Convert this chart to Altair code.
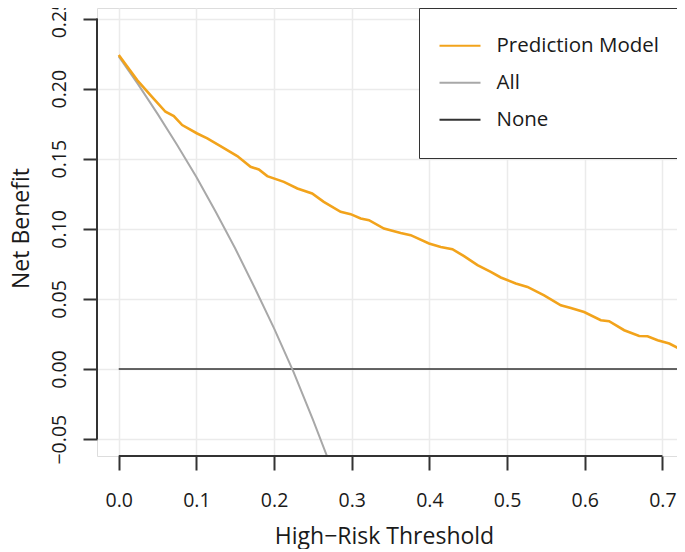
import altair as alt
import pandas as pd

# ---- data ----
series_names = ["Prediction Model", "All", "None"]
series_colors = ["#F2A31B", "#A8A8A8", "#333333"]
series_widths = [2.6, 2.0, 1.6]

model_thr = [0.0, 0.0237, 0.0408, 0.0602, 0.0709, 0.0817, 0.101, 0.114, 0.131, 0.1526,
             0.1697, 0.1804, 0.1912, 0.2126, 0.23, 0.249, 0.264, 0.2857, 0.2986, 0.3115,
             0.3222, 0.3415, 0.363, 0.3759, 0.3995, 0.4146, 0.4296, 0.4446, 0.4619, 0.479,
             0.4919, 0.5112, 0.5263, 0.5477, 0.5692, 0.5821, 0.5992, 0.6207, 0.6314, 0.6508,
             0.6701, 0.6809, 0.6938, 0.7088, 0.7216, 0.735]
model_nb = [0.224, 0.2061, 0.1954, 0.1835, 0.1804, 0.174, 0.168, 0.1645, 0.159, 0.1519,
            0.1442, 0.1424, 0.1376, 0.1335, 0.1288, 0.1252, 0.1192, 0.1121, 0.1105, 0.1074,
            0.1062, 0.1002, 0.0971, 0.0955, 0.0896, 0.0871, 0.0855, 0.0805, 0.0741, 0.0693,
            0.0653, 0.061, 0.0586, 0.0526, 0.0455, 0.0436, 0.0407, 0.0348, 0.0341, 0.0277,
            0.0236, 0.0234, 0.0206, 0.0182, 0.0146, 0.0140]

all_thr = [0.0, 0.025, 0.05, 0.075, 0.1, 0.125, 0.15, 0.175, 0.2, 0.225, 0.25, 0.275]
all_nb = [0.223, 0.203, 0.182, 0.160, 0.137, 0.112, 0.086, 0.058, 0.029, -0.002, -0.036, -0.072]

none_thr = [0.0, 0.75]
none_nb = [0.0, 0.0]

x_ticks = [0.0, 0.1, 0.2, 0.3, 0.4, 0.5, 0.6, 0.7]
y_ticks = [-0.05, 0.0, 0.05, 0.10, 0.15, 0.20, 0.25]
x_domain = [-0.028, 0.7188]
y_domain = [-0.062, 0.2575]

rows = []
for name, xs, ys in [("Prediction Model", model_thr, model_nb),
                     ("All", all_thr, all_nb),
                     ("None", none_thr, none_nb)]:
    for i, (a, b) in enumerate(zip(xs, ys)):
        rows.append({"series": name, "threshold": a, "net_benefit": b, "order": i})
df = pd.DataFrame(rows)

axis_df_x = pd.DataFrame({"x": [x_ticks[0]], "x2": [x_ticks[-1]]})
axis_df_y = pd.DataFrame({"y": [y_ticks[0]], "y2": [y_ticks[-1]]})

W, H = 580, 448
FONT = "Open Sans"
TXT = "#1a1a1a"

xscale = alt.Scale(domain=x_domain, nice=False, zero=False)
yscale = alt.Scale(domain=y_domain, nice=False, zero=False)

x_axis = alt.Axis(values=x_ticks, format=".1f", domain=False, tickSize=14, tickWidth=2,
                  tickColor="#333333", grid=True, gridColor="#EBEBEB", gridWidth=1.5,
                  labelFontSize=19.5, labelFont=FONT, labelColor=TXT, labelBaseline="alphabetic",
                  labelPadding=36, labelFlush=False, labelOverlap=False,
                  title="High\u2212Risk Threshold", titleFont=FONT, titleFontSize=23,
                  titleFontWeight="normal", titleColor=TXT, titleBaseline="alphabetic",
                  titleAlign="center", titleX=287, titleY=87)
y_axis = alt.Axis(values=y_ticks, format=".2f", domain=False, tickSize=14, tickWidth=2,
                  tickColor="#333333", grid=True, gridColor="#EBEBEB", gridWidth=1.5,
                  labelFontSize=19.5, labelFont=FONT, labelColor=TXT, labelAngle=270,
                  labelAlign="center", labelBaseline="alphabetic", labelPadding=18,
                  labelFlush=False, labelOverlap=False,
                  title="Net Benefit", titleFont=FONT, titleFontSize=23,
                  titleFontWeight="normal", titleColor=TXT, titleAngle=270,
                  titleBaseline="alphabetic", titleAlign="center", titleX=-69, titleY=220)

color = alt.Color("series:N",
                  scale=alt.Scale(domain=series_names, range=series_colors),
                  legend=alt.Legend(title=None, orient="none", legendX=322, legendY=0,
                                    symbolType="stroke", symbolSize=1681, symbolStrokeWidth=2,
                                    labelFontSize=20.5, labelFont=FONT, labelColor=TXT,
                                    labelOffset=15, labelLimit=400, rowPadding=0,
                                    clipHeight=36.7, padding=19.5,
                                    strokeColor="#333333", fillColor="white"))


def line_layer(name, width):
    return alt.Chart(df).transform_filter(alt.datum.series == name).mark_line(
        clip=True, strokeWidth=width
    ).encode(
        x=alt.X("threshold:Q", scale=xscale, axis=x_axis),
        y=alt.Y("net_benefit:Q", scale=yscale, axis=y_axis),
        color=color,
        order="order:Q",
    )

none_l = line_layer("None", series_widths[2])
all_l = line_layer("All", series_widths[1])
model_l = line_layer("Prediction Model", series_widths[0])

x_line = alt.Chart(axis_df_x).mark_rule(color="#333333", strokeWidth=2).encode(
    x=alt.X("x:Q", scale=xscale), x2="x2:Q", y=alt.value(H))
y_line = alt.Chart(axis_df_y).mark_rule(color="#333333", strokeWidth=2).encode(
    y=alt.Y("y:Q", scale=yscale), y2="y2:Q", x=alt.value(0))

chart = alt.layer(none_l, all_l, model_l, x_line, y_line).properties(
    width=W, height=H,
    autosize=alt.AutoSizeParams(type="none"),
    padding={"left": 89, "top": 0, "right": 0, "bottom": 93},
).configure_view(stroke=None).configure(background="white")

chart.save("out.html", embed_options={"renderer": "svg", "actions": False})
